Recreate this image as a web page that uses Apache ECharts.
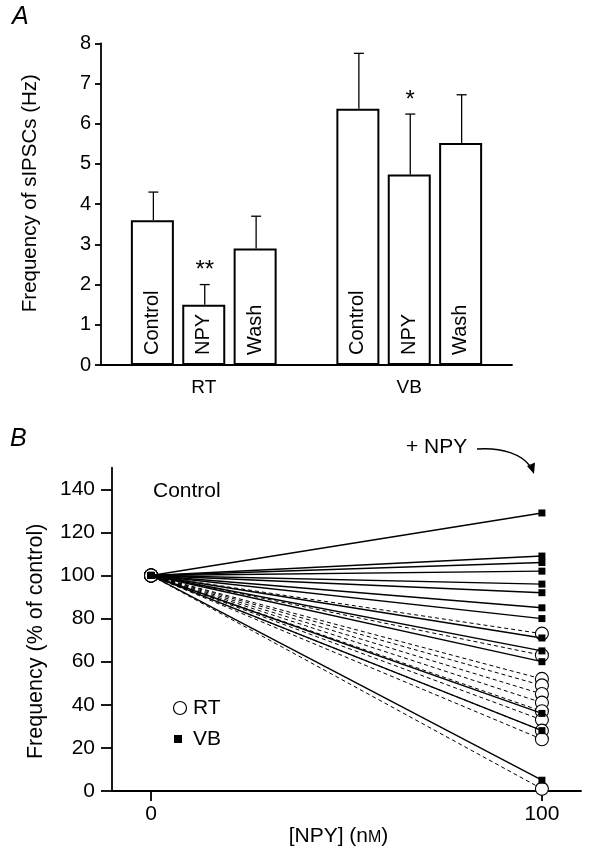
<!DOCTYPE html>
<html>
<head>
<meta charset="utf-8">
<script src="https://cdn.jsdelivr.net/npm/echarts@6/dist/echarts.min.js"></script>
<style>html,body{margin:0;padding:0;background:#fff;}#chart{width:607px;height:852px;}</style>
</head>
<body>
<div id="chart"></div>
<script>
// ---------- Panel A data ----------
const groups = ['RT', 'VB'];
const conditions = ['Control', 'NPY', 'Wash'];
const rtMean = [3.6, 1.5, 2.9];
const rtUpper = [4.3, 2.0, 3.7];
const rtSig = ['', '**', ''];
const vbMean = [6.37, 4.74, 5.52];
const vbUpper = [7.75, 6.24, 6.72];
const vbSig = ['', '*', ''];
const yTicksA = [0, 1, 2, 3, 4, 5, 6, 7, 8];

// ---------- Panel B data ----------
const doseLevels = [0, 100];      // [NPY] (nM)
const controlPct = 100;
const rtPercent = [73, 63, 52, 49, 45, 41, 37, 33, 28, 24, 1];
const vbPercent = [129, 109, 106, 102, 96, 92, 85, 80, 71, 65, 60, 36, 28, 5];
const yTicksB = [0, 20, 40, 60, 80, 100, 120, 140];
const xTicksB = [0, 100];

const FONT = '"Liberation Sans", Arial, Helvetica, sans-serif';
const means = [rtMean, vbMean], uppers = [rtUpper, vbUpper], sigs = [rtSig, vbSig];

// slot positions on panel A x axis: group g, condition c
const slot = (g, c) => 1 + g * 4 + c;
const groupCenter = g => slot(g, 1);

const barData = [], errData = [];
groups.forEach((g, gi) => {
  conditions.forEach((c, ci) => {
    barData.push({ name: c, value: [slot(gi, ci), means[gi][ci]] });
    errData.push([slot(gi, ci), means[gi][ci], uppers[gi][ci], sigs[gi][ci]]);
  });
});

const series = [
  {
    type: 'bar', xAxisIndex: 0, yAxisIndex: 0, barWidth: 43,
    data: barData,
    itemStyle: { color: '#fff', borderColor: '#000', borderWidth: 2 },
    label: {
      show: true, position: 'insideBottom', rotate: 90, align: 'left', verticalAlign: 'middle',
      distance: 10, formatter: '{b}', color: '#000', fontSize: 20, fontFamily: FONT
    },
    z: 2
  },
  {
    type: 'custom', xAxisIndex: 0, yAxisIndex: 0, data: errData, z: 3,
    renderItem: function (params, api) {
      const p0 = api.coord([api.value(0), api.value(1)]);
      const p1 = api.coord([api.value(0), api.value(2)]);
      const s = errData[params.dataIndex][3];
      const children = [
        { type: 'line', shape: { x1: p0[0] + 1, y1: p0[1], x2: p1[0] + 1, y2: p1[1] }, style: { stroke: '#000', lineWidth: 1.3 } },
        { type: 'line', shape: { x1: p1[0] - 4, y1: p1[1], x2: p1[0] + 6, y2: p1[1] }, style: { stroke: '#000', lineWidth: 1.3 } }
      ];
      if (s) {
        children.push({ type: 'text', style: { text: s, x: p1[0] + 1, y: p1[1] - 2, align: 'center', verticalAlign: 'bottom', font: '24px ' + FONT, fill: '#000' } });
      }
      return { type: 'group', children: children };
    }
  }
];

rtPercent.forEach(v => {
  series.push({
    name: 'RT', type: 'line', xAxisIndex: 1, yAxisIndex: 1,
    data: [[doseLevels[0], controlPct], [doseLevels[1], v]],
    symbol: 'circle', symbolSize: 13,
    itemStyle: { color: '#fff', borderColor: '#000', borderWidth: 1.1 },
    lineStyle: { color: '#000', width: 1, type: [4, 3] },
    z: 2, animation: false
  });
});
vbPercent.forEach(v => {
  series.push({
    name: 'VB', type: 'line', xAxisIndex: 1, yAxisIndex: 1,
    data: [[doseLevels[0], controlPct], [doseLevels[1], v]],
    symbol: 'rect', symbolSize: 7,
    itemStyle: { color: '#000' },
    lineStyle: { color: '#000', width: 1.4 },
    z: 3, animation: false
  });
});

const axisLine = { show: true, onZero: false, lineStyle: { color: '#000', width: 1.8 } };

const option = {
  backgroundColor: '#fff',
  animation: false,
  grid: [
    { left: 101, top: 43.3, width: 411, height: 321.7 },
    { left: 112, top: 467.7, width: 469, height: 323.3 }
  ],
  xAxis: [
    {
      gridIndex: 0, type: 'value', min: 0, max: 8,
      axisLine: axisLine, axisTick: { show: false }, splitLine: { show: false },
      axisLabel: {
        customValues: groups.map((g, i) => groupCenter(i)),
        formatter: v => groups[(v - 2) / 4], margin: 13,
        color: '#000', fontSize: 19, fontFamily: FONT
      }
    },
    {
      gridIndex: 1, type: 'value', min: -10, max: 110,
      axisLine: axisLine, splitLine: { show: false },
      axisTick: { show: true, customValues: xTicksB, inside: false, length: 10, lineStyle: { color: '#000', width: 1.8 } },
      axisLabel: { customValues: xTicksB, margin: 13, color: '#000', fontSize: 21, fontFamily: FONT },
      name: '[NPY] (n{sc|M})', nameLocation: 'middle', nameGap: 23,
      nameTextStyle: {
        color: '#000', fontSize: 21, fontFamily: FONT, padding: [0, 16, 0, 0],
        rich: { sc: { fontSize: 16, fontFamily: FONT, color: '#000', padding: [3, 0, 0, 0] } }
      }
    }
  ],
  yAxis: [
    {
      gridIndex: 0, type: 'value', min: 0, max: 8, interval: 1,
      axisLine: axisLine, splitLine: { show: false },
      axisTick: { show: true, length: 6, lineStyle: { color: '#000', width: 1.8 } },
      axisLabel: { margin: 10, color: '#000', fontSize: 20, fontFamily: FONT },
      name: 'Frequency of sIPSCs (Hz)', nameLocation: 'middle', nameGap: 60, nameRotate: 90,
      nameTextStyle: { color: '#000', fontSize: 20.5, fontFamily: FONT, padding: [0, 0, 0, 22] }
    },
    {
      gridIndex: 1, type: 'value', min: 0, max: 150,
      axisLine: axisLine, splitLine: { show: false },
      axisTick: { show: true, customValues: yTicksB, length: 11, lineStyle: { color: '#000', width: 1.8 } },
      axisLabel: { customValues: yTicksB, margin: 17, color: '#000', fontSize: 21, fontFamily: FONT },
      name: 'Frequency (% of control)', nameLocation: 'middle', nameGap: 65, nameRotate: 90,
      nameTextStyle: { color: '#000', fontSize: 21.5, fontFamily: FONT, padding: [0, 24, 0, 0] }
    }
  ],
  graphic: [
    { type: 'text', left: 12, top: 5, style: { text: 'A', font: 'italic 25px ' + FONT, fill: '#000' } },
    { type: 'text', left: 10, top: 427, style: { text: 'B', font: 'italic 25px ' + FONT, fill: '#000' } },
    { type: 'text', left: 153, top: 481, style: { text: 'Control', font: '21px ' + FONT, fill: '#000' } },
    { type: 'text', left: 406, top: 437, style: { text: '+ NPY', font: '21px ' + FONT, fill: '#000' } },
    { type: 'bezierCurve', shape: { x1: 477, y1: 449, cpx1: 503, cpy1: 447, cpx2: 522, cpy2: 455, x2: 530, y2: 466 }, style: { stroke: '#000', lineWidth: 1.4, fill: null } },
    { type: 'polygon', shape: { points: [[534, 474], [535, 462.5], [527, 466]] }, style: { fill: '#000' } },
    { type: 'circle', shape: { cx: 180, cy: 708, r: 6.5 }, style: { fill: '#fff', stroke: '#000', lineWidth: 1.2 } },
    { type: 'text', left: 193, top: 698, style: { text: 'RT', font: '21px ' + FONT, fill: '#000' } },
    { type: 'rect', shape: { x: 174, y: 735, width: 8, height: 8 }, style: { fill: '#000' } },
    { type: 'text', left: 193, top: 729, style: { text: 'VB', font: '21px ' + FONT, fill: '#000' } }
  ],
  series: series
};

const chart = echarts.init(document.getElementById('chart'), null, { renderer: 'canvas' });
chart.setOption(option);
</script>
</body>
</html>
